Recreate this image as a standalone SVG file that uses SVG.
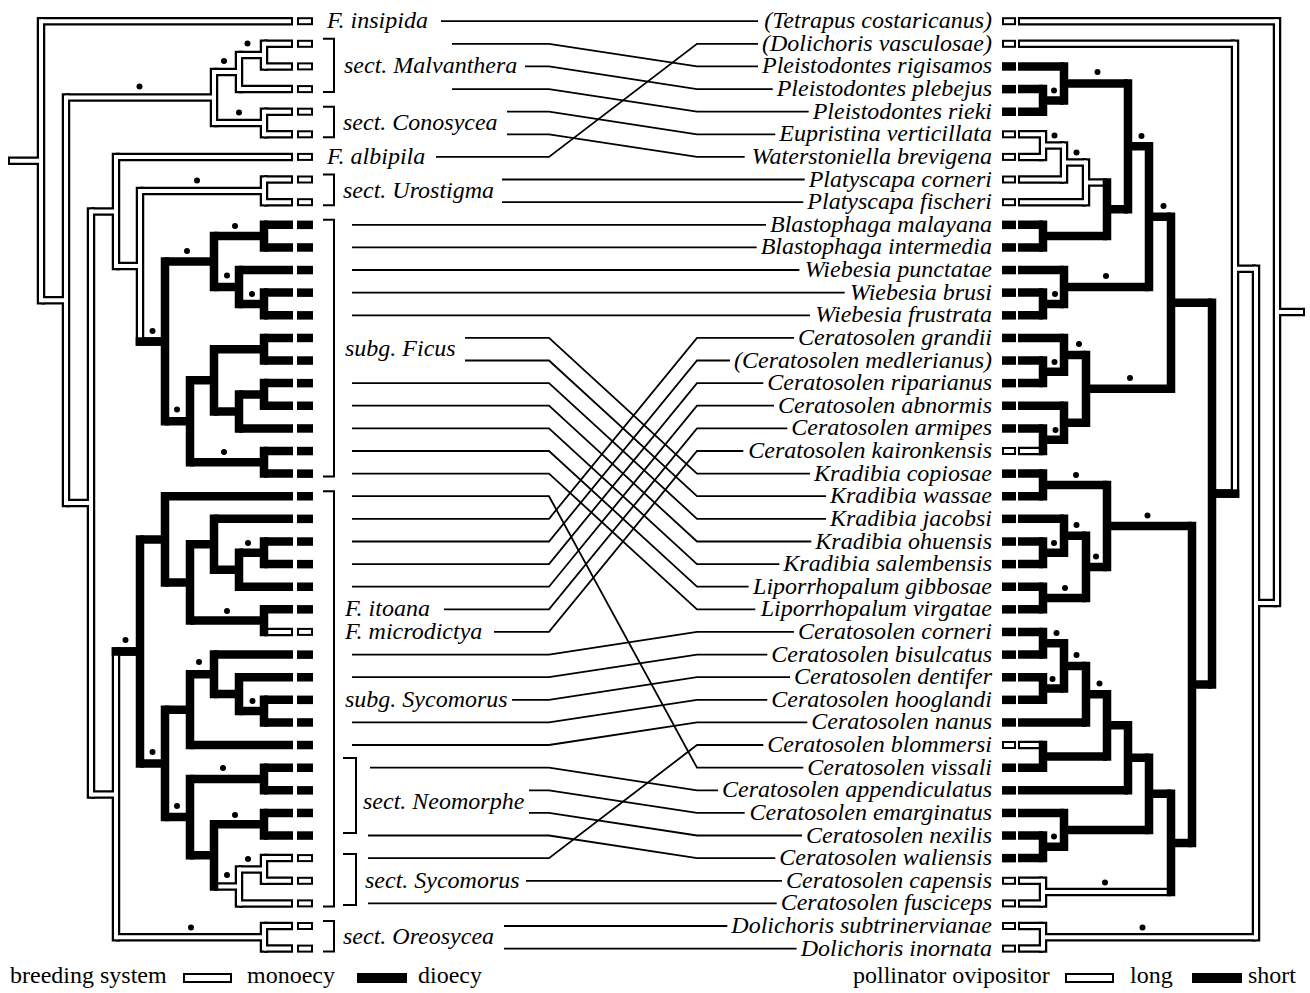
<svg xmlns="http://www.w3.org/2000/svg" width="1310" height="993" viewBox="0 0 1310 993">
<style>
.b{fill:none;stroke:#000;stroke-width:8.5}
.bv{fill:none;stroke:#000;stroke-width:8.5;stroke-linecap:square}
.w{fill:none;stroke:#fff;stroke-width:4}
.wv{fill:none;stroke:#fff;stroke-width:4;stroke-linecap:square}
.c{fill:none;stroke:#000;stroke-width:1.8}
.br{fill:none;stroke:#000;stroke-width:2}
.bo{fill:#fff;stroke:#000;stroke-width:2}
.bs{fill:#000}
.d{fill:#000}
.t{font-family:"Liberation Serif","Times New Roman",serif;font-style:italic;font-size:24px;fill:#000}
.r{text-anchor:end}
.lg{font-family:"Liberation Serif","Times New Roman",serif;font-size:24px;fill:#000}
</style>
<rect width="1310" height="993" fill="#fff"/>
<g id="left-tree">
<path class="bv" d="M41 21.2V300.2M66 97.6V502.9M214 72.1V123M239 55.1V89.1M264 43.8V66.4M264 111.7V134.3M91 211.5V794.4M116 156.9V266.1M140 190.9V341.4M264 179.5V202.2M165 261.5V421.3M214 236.1V287M264 224.8V247.4M239 270V304M264 292.6V315.3M190 380.3V462.3M214 349.2V411.4M264 337.9V360.5M239 394.4V428.4M264 383.1V405.7M264 451V473.6M116 651.4V937.3M140 539.4V763.4M165 496.2V582.5M190 544.3V620.6M214 518.8V569.7M239 552.8V586.7M264 541.5V564.1M264 609.3V631.9M165 709.7V817.1M190 674.3V745M214 654.6V694.1M239 677.2V711.1M264 699.8V722.4M190 779V855.3M264 767.7V790.3M214 824.2V886.4M264 812.9V835.5M239 869.5V903.4M264 858.1V880.8M264 926V948.6"/>
<path class="b" d="M8 160.7H41M41 21.2H293M41 300.2H66M66 97.6H214M66 502.9H91M214 72.1H239M214 123H264M239 55.1H264M239 89.1H293M264 43.8H293M264 66.4H293M264 111.7H293M264 134.3H293M91 211.5H116M91 794.4H116M116 156.9H293M116 266.1H140M140 190.9H264M264 179.5H293M264 202.2H293M140 341.4H165M165 261.5H214M165 421.3H190M214 236.1H264M214 287H239M264 224.8H293M264 247.4H293M239 270H293M239 304H264M264 292.6H293M264 315.3H293M190 380.3H214M190 462.3H264M214 349.2H264M214 411.4H239M264 337.9H293M264 360.5H293M239 394.4H264M239 428.4H293M264 383.1H293M264 405.7H293M264 451H293M264 473.6H293M116 651.4H140M116 937.3H264M264 926H293M264 948.6H293M140 539.4H165M140 763.4H165M165 496.2H293M165 582.5H190M190 544.3H214M190 620.6H264M214 518.8H293M214 569.7H239M239 552.8H264M239 586.7H293M264 541.5H293M264 564.1H293M264 609.3H293M264 631.9H293M165 709.7H190M165 817.1H190M190 674.3H214M190 745H293M214 654.6H293M214 694.1H239M239 677.2H293M239 711.1H264M264 699.8H293M264 722.4H293M190 779H264M190 855.3H214M264 767.7H293M264 790.3H293M214 824.2H264M214 886.4H239M264 812.9H293M264 835.5H293M239 869.5H264M239 903.4H293M264 858.1H293M264 880.8H293"/>
<path class="wv" d="M41 21.2V300.2M66 97.6V502.9M214 72.1V123M239 55.1V89.1M264 43.8V66.4M264 111.7V134.3M91 211.5V794.4M116 156.9V266.1M140 190.9V341.4M264 179.5V202.2M116 651.4V937.3M239 869.5V903.4M264 858.1V880.8M264 926V948.6"/>
<path class="w" d="M10 160.7H41M41 21.2H291M41 300.2H66M66 97.6H214M66 502.9H91M214 72.1H239M214 123H264M239 55.1H264M239 89.1H291M264 43.8H291M264 66.4H291M264 111.7H291M264 134.3H291M91 211.5H116M91 794.4H116M116 156.9H291M116 266.1H140M140 190.9H264M264 179.5H291M264 202.2H291M116 937.3H264M264 926H291M264 948.6H291M268.3 631.9H291M218.3 886.4H239M239 869.5H264M239 903.4H291M264 858.1H291M264 880.8H291"/>
<path class="b" d="M135.7 341.4H165M111.7 651.4H140"/>
<g class="d">
<circle cx="139.5" cy="86.5" r="3"/><circle cx="224" cy="61" r="3"/><circle cx="247.5" cy="43.5" r="3"/><circle cx="239" cy="112.5" r="3"/><circle cx="197" cy="180.5" r="3"/><circle cx="235" cy="226" r="3"/><circle cx="187" cy="251" r="3"/><circle cx="227" cy="275.5" r="3"/><circle cx="252" cy="294" r="3"/><circle cx="152.5" cy="331" r="3"/><circle cx="177" cy="409.5" r="3"/><circle cx="224" cy="452" r="3"/><circle cx="248" cy="543" r="3"/><circle cx="227" cy="611" r="3"/><circle cx="125.5" cy="640" r="3"/><circle cx="199" cy="662" r="3"/><circle cx="252.5" cy="701" r="3"/><circle cx="152.5" cy="752" r="3"/><circle cx="223" cy="768" r="3"/><circle cx="177" cy="806" r="3"/><circle cx="235" cy="815" r="3"/><circle cx="248" cy="859" r="3"/><circle cx="227" cy="875" r="3"/><circle cx="191" cy="927.5" r="3"/>
</g>
</g>
<g id="right-tree">
<path class="bv" d="M1277 21.2V603M1256 268.7V937.3M1235 43.8V493.6M1212 302.7V684.4M1171 216.7V388.8M1149 146.3V287M1128 83.4V209.2M1064 66.4V100.4M1043 89.1V111.7M1107 182.4V236.1M1086 162.6V202.2M1064 145.6V179.5M1043 134.3V156.9M1043 224.8V247.4M1064 270V304M1043 292.6V315.3M1086 354.9V422.7M1064 337.9V371.8M1043 360.5V383.1M1064 405.7V439.7M1043 428.4V451M1192 525.9V843M1107 484.9V566.9M1043 473.6V496.2M1086 535.8V598M1064 518.8V552.8M1043 541.5V564.1M1043 586.7V609.3M1171 793.8V892.1M1149 757.8V829.9M1128 725.3V790.3M1107 694.2V756.4M1086 665.9V722.4M1064 643.3V688.5M1043 631.9V654.6M1043 677.2V699.8M1043 745V767.7M1064 812.9V846.8M1043 835.5V858.1M1043 880.8V903.4M1043 926V948.6"/>
<path class="b" d="M1305 312.1H1277M1277 21.2H1018M1277 603H1256M1256 268.7H1235M1256 937.3H1043M1043 926H1018M1043 948.6H1018M1235 43.8H1018M1235 493.6H1212M1212 302.7H1171M1212 684.4H1192M1171 216.7H1149M1171 388.8H1086M1149 146.3H1128M1149 287H1064M1128 83.4H1064M1128 209.2H1107M1064 66.4H1018M1064 100.4H1043M1043 89.1H1018M1043 111.7H1018M1107 182.4H1086M1107 236.1H1043M1086 162.6H1064M1086 202.2H1018M1064 145.6H1043M1064 179.5H1018M1043 134.3H1018M1043 156.9H1018M1043 224.8H1018M1043 247.4H1018M1064 270H1018M1064 304H1043M1043 292.6H1018M1043 315.3H1018M1086 354.9H1064M1086 422.7H1064M1064 337.9H1018M1064 371.8H1043M1043 360.5H1018M1043 383.1H1018M1064 405.7H1018M1064 439.7H1043M1043 428.4H1018M1043 451H1018M1192 525.9H1107M1192 843H1171M1107 484.9H1043M1107 566.9H1086M1043 473.6H1018M1043 496.2H1018M1086 535.8H1064M1086 598H1043M1064 518.8H1018M1064 552.8H1043M1043 541.5H1018M1043 564.1H1018M1043 586.7H1018M1043 609.3H1018M1171 793.8H1149M1171 892.1H1043M1149 757.8H1128M1149 829.9H1064M1128 725.3H1107M1128 790.3H1018M1107 694.2H1086M1107 756.4H1043M1086 665.9H1064M1086 722.4H1018M1064 643.3H1043M1064 688.5H1043M1043 631.9H1018M1043 654.6H1018M1043 677.2H1018M1043 699.8H1018M1043 745H1018M1043 767.7H1018M1064 812.9H1018M1064 846.8H1043M1043 835.5H1018M1043 858.1H1018M1043 880.8H1018M1043 903.4H1018"/>
<path class="wv" d="M1277 21.2V603M1256 268.7V937.3M1235 43.8V493.6M1086 162.6V202.2M1064 145.6V179.5M1043 134.3V156.9M1043 880.8V903.4M1043 926V948.6"/>
<path class="w" d="M1303 312.1H1277M1277 21.2H1020M1277 603H1256M1256 268.7H1235M1256 937.3H1043M1043 926H1020M1043 948.6H1020M1235 43.8H1020M1102.7 182.4H1086M1086 162.6H1064M1086 202.2H1020M1064 145.6H1043M1064 179.5H1020M1043 134.3H1020M1043 156.9H1020M1038.7 451H1020M1166.7 892.1H1043M1043 880.8H1020M1043 903.4H1020M1038.7 745H1020"/>
<path class="b" d="M1239.3 493.6H1212"/>
<g class="d">
<circle cx="1097.5" cy="72" r="3"/><circle cx="1054" cy="90.5" r="3"/><circle cx="1054.5" cy="135.5" r="3"/><circle cx="1076.5" cy="152.5" r="3"/><circle cx="1141.5" cy="136" r="3"/><circle cx="1163.5" cy="206" r="3"/><circle cx="1106" cy="276" r="3"/><circle cx="1055" cy="294" r="3"/><circle cx="1079" cy="344" r="3"/><circle cx="1054.5" cy="362" r="3"/><circle cx="1130" cy="378" r="3"/><circle cx="1055.5" cy="430" r="3"/><circle cx="1076" cy="475" r="3"/><circle cx="1147.5" cy="515.5" r="3"/><circle cx="1076.5" cy="525" r="3"/><circle cx="1054" cy="543" r="3"/><circle cx="1096" cy="556.5" r="3"/><circle cx="1065" cy="588" r="3"/><circle cx="1056.5" cy="633" r="3"/><circle cx="1076.5" cy="655" r="3"/><circle cx="1052.5" cy="679" r="3"/><circle cx="1099.5" cy="683.5" r="3"/><circle cx="1054" cy="836.5" r="3"/><circle cx="1105" cy="882.5" r="3"/><circle cx="1142.5" cy="927.5" r="3"/>
</g>
</g>
<g id="fig-tips">
<rect class="bo" x="298" y="18.2" width="14" height="6"/><rect class="bo" x="298" y="40.8" width="14" height="6"/><rect class="bo" x="298" y="63.4" width="14" height="6"/><rect class="bo" x="298" y="86.1" width="14" height="6"/><rect class="bo" x="298" y="108.7" width="14" height="6"/><rect class="bo" x="298" y="131.3" width="14" height="6"/><rect class="bo" x="298" y="153.9" width="14" height="6"/><rect class="bo" x="298" y="176.5" width="14" height="6"/><rect class="bo" x="298" y="199.2" width="14" height="6"/>
<rect class="bs" x="297" y="220.6" width="16" height="8.5"/><rect class="bs" x="297" y="243.2" width="16" height="8.5"/><rect class="bs" x="297" y="265.8" width="16" height="8.5"/><rect class="bs" x="297" y="288.4" width="16" height="8.5"/><rect class="bs" x="297" y="311.1" width="16" height="8.5"/><rect class="bs" x="297" y="333.7" width="16" height="8.5"/><rect class="bs" x="297" y="356.3" width="16" height="8.5"/><rect class="bs" x="297" y="378.9" width="16" height="8.5"/><rect class="bs" x="297" y="401.5" width="16" height="8.5"/><rect class="bs" x="297" y="424.2" width="16" height="8.5"/><rect class="bs" x="297" y="446.8" width="16" height="8.5"/><rect class="bs" x="297" y="469.4" width="16" height="8.5"/><rect class="bs" x="297" y="492" width="16" height="8.5"/><rect class="bs" x="297" y="514.6" width="16" height="8.5"/><rect class="bs" x="297" y="537.3" width="16" height="8.5"/><rect class="bs" x="297" y="559.9" width="16" height="8.5"/><rect class="bs" x="297" y="582.5" width="16" height="8.5"/><rect class="bs" x="297" y="605.1" width="16" height="8.5"/>
<rect class="bo" x="298" y="628.9" width="14" height="6"/>
<rect class="bs" x="297" y="650.4" width="16" height="8.5"/><rect class="bs" x="297" y="673" width="16" height="8.5"/><rect class="bs" x="297" y="695.6" width="16" height="8.5"/><rect class="bs" x="297" y="718.2" width="16" height="8.5"/><rect class="bs" x="297" y="740.8" width="16" height="8.5"/><rect class="bs" x="297" y="763.5" width="16" height="8.5"/><rect class="bs" x="297" y="786.1" width="16" height="8.5"/><rect class="bs" x="297" y="808.7" width="16" height="8.5"/><rect class="bs" x="297" y="831.3" width="16" height="8.5"/>
<rect class="bo" x="298" y="855.1" width="14" height="6"/><rect class="bo" x="298" y="877.8" width="14" height="6"/><rect class="bo" x="298" y="900.4" width="14" height="6"/><rect class="bo" x="298" y="923" width="14" height="6"/><rect class="bo" x="298" y="945.6" width="14" height="6"/>
</g>
<g id="wasp-tips">
<rect class="bo" x="1003" y="18.2" width="12" height="6"/><rect class="bo" x="1003" y="40.8" width="12" height="6"/>
<rect class="bs" x="1002" y="62.2" width="14" height="8.5"/><rect class="bs" x="1002" y="84.9" width="14" height="8.5"/><rect class="bs" x="1002" y="107.5" width="14" height="8.5"/>
<rect class="bo" x="1003" y="131.3" width="12" height="6"/><rect class="bo" x="1003" y="153.9" width="12" height="6"/><rect class="bo" x="1003" y="176.5" width="12" height="6"/><rect class="bo" x="1003" y="199.2" width="12" height="6"/>
<rect class="bs" x="1002" y="220.6" width="14" height="8.5"/><rect class="bs" x="1002" y="243.2" width="14" height="8.5"/><rect class="bs" x="1002" y="265.8" width="14" height="8.5"/><rect class="bs" x="1002" y="288.4" width="14" height="8.5"/><rect class="bs" x="1002" y="311.1" width="14" height="8.5"/><rect class="bs" x="1002" y="333.7" width="14" height="8.5"/><rect class="bs" x="1002" y="356.3" width="14" height="8.5"/><rect class="bs" x="1002" y="378.9" width="14" height="8.5"/><rect class="bs" x="1002" y="401.5" width="14" height="8.5"/><rect class="bs" x="1002" y="424.2" width="14" height="8.5"/>
<rect class="bo" x="1003" y="448" width="12" height="6"/>
<rect class="bs" x="1002" y="469.4" width="14" height="8.5"/><rect class="bs" x="1002" y="492" width="14" height="8.5"/><rect class="bs" x="1002" y="514.6" width="14" height="8.5"/><rect class="bs" x="1002" y="537.3" width="14" height="8.5"/><rect class="bs" x="1002" y="559.9" width="14" height="8.5"/><rect class="bs" x="1002" y="582.5" width="14" height="8.5"/><rect class="bs" x="1002" y="605.1" width="14" height="8.5"/><rect class="bs" x="1002" y="627.7" width="14" height="8.5"/><rect class="bs" x="1002" y="650.4" width="14" height="8.5"/><rect class="bs" x="1002" y="673" width="14" height="8.5"/><rect class="bs" x="1002" y="695.6" width="14" height="8.5"/><rect class="bs" x="1002" y="718.2" width="14" height="8.5"/>
<rect class="bo" x="1003" y="742" width="12" height="6"/>
<rect class="bs" x="1002" y="763.5" width="14" height="8.5"/><rect class="bs" x="1002" y="786.1" width="14" height="8.5"/><rect class="bs" x="1002" y="808.7" width="14" height="8.5"/><rect class="bs" x="1002" y="831.3" width="14" height="8.5"/><rect class="bs" x="1002" y="853.9" width="14" height="8.5"/>
<rect class="bo" x="1003" y="877.8" width="12" height="6"/><rect class="bo" x="1003" y="900.4" width="12" height="6"/><rect class="bo" x="1003" y="923" width="12" height="6"/><rect class="bo" x="1003" y="945.6" width="12" height="6"/>
</g>
<g id="fig-labels">
<g id="f-insipida"><text class="t" x="327" y="28.2">F. insipida</text></g>
<g id="s-malvanthera"><path class="br" d="M323 38.8H334V92.1H323"/><text class="t" x="344" y="73.4">sect. Malvanthera</text></g>
<g id="s-conosycea"><path class="br" d="M323 106.7H334V137.3H323"/><text class="t" x="343" y="130">sect. Conosycea</text></g>
<g id="f-albipila"><text class="t" x="327" y="163.9">F. albipila</text></g>
<g id="s-urostigma"><path class="br" d="M323 174.5H334V205.2H323"/><text class="t" x="343" y="197.9">sect. Urostigma</text></g>
<g id="sg-ficus"><path class="br" d="M323 219.8H334V476.6H323"/><text class="t" x="345" y="356.2">subg. Ficus</text></g>
<g id="sg-sycomorus"><path class="br" d="M323 491.2H334V906.4H323"/><text class="t" x="345" y="706.8">subg. Sycomorus</text></g>
<g id="f-itoana"><text class="t" x="345" y="616.3">F. itoana</text></g>
<g id="f-microdictya"><text class="t" x="345" y="638.9">F. microdictya</text></g>
<g id="s-neomorphe"><path class="br" d="M343 758H356V833H343"/><text class="t" x="363" y="808.6">sect. Neomorphe</text></g>
<g id="s-sycomorus"><path class="br" d="M343 854H356V905H343"/><text class="t" x="365" y="887.8">sect. Sycomorus</text></g>
<g id="s-oreosycea"><path class="br" d="M323 921H334V951.6H323"/><text class="t" x="343" y="944.3">sect. Oreosycea</text></g>
</g>
<g id="wasp-labels" class="t r">
<text x="992" y="28.2">(Tetrapus costaricanus)</text>
<text x="992" y="50.8">(Dolichoris vasculosae)</text>
<text x="992" y="73.4">Pleistodontes rigisamos</text>
<text x="992" y="96.1">Pleistodontes plebejus</text>
<text x="992" y="118.7">Pleistodontes rieki</text>
<text x="992" y="141.3">Eupristina verticillata</text>
<text x="992" y="163.9">Waterstoniella brevigena</text>
<text x="992" y="186.5">Platyscapa corneri</text>
<text x="992" y="209.2">Platyscapa fischeri</text>
<text x="992" y="231.8">Blastophaga malayana</text>
<text x="992" y="254.4">Blastophaga intermedia</text>
<text x="992" y="277">Wiebesia punctatae</text>
<text x="992" y="299.6">Wiebesia brusi</text>
<text x="992" y="322.3">Wiebesia frustrata</text>
<text x="992" y="344.9">Ceratosolen grandii</text>
<text x="992" y="367.5">(Ceratosolen medlerianus)</text>
<text x="992" y="390.1">Ceratosolen riparianus</text>
<text x="992" y="412.7">Ceratosolen abnormis</text>
<text x="992" y="435.4">Ceratosolen armipes</text>
<text x="992" y="458">Ceratosolen kaironkensis</text>
<text x="992" y="480.6">Kradibia copiosae</text>
<text x="992" y="503.2">Kradibia wassae</text>
<text x="992" y="525.8">Kradibia jacobsi</text>
<text x="992" y="548.5">Kradibia ohuensis</text>
<text x="992" y="571.1">Kradibia salembensis</text>
<text x="992" y="593.7">Liporrhopalum gibbosae</text>
<text x="992" y="616.3">Liporrhopalum virgatae</text>
<text x="992" y="638.9">Ceratosolen corneri</text>
<text x="992" y="661.6">Ceratosolen bisulcatus</text>
<text x="992" y="684.2">Ceratosolen dentifer</text>
<text x="992" y="706.8">Ceratosolen hooglandi</text>
<text x="992" y="729.4">Ceratosolen nanus</text>
<text x="992" y="752">Ceratosolen blommersi</text>
<text x="992" y="774.7">Ceratosolen vissali</text>
<text x="992" y="797.3">Ceratosolen appendiculatus</text>
<text x="992" y="819.9">Ceratosolen emarginatus</text>
<text x="992" y="842.5">Ceratosolen nexilis</text>
<text x="992" y="865.1">Ceratosolen waliensis</text>
<text x="992" y="887.8">Ceratosolen capensis</text>
<text x="992" y="910.4">Ceratosolen fusciceps</text>
<text x="992" y="933">Dolichoris subtrinervianae</text>
<text x="992" y="955.6">Dolichoris inornata</text>
</g>
<g id="connectors" class="c">
<path d="M441 21.2H758"/>
<path d="M452 43.8H549L697 66.4H758"/>
<path d="M525 66.4H549L697 89.1H772.7"/>
<path d="M452 89.1H549L697 111.7H808.7"/>
<path d="M507 111.7H549L697 134.3H775.3"/>
<path d="M507 134.3H549L697 156.9H744.7"/>
<path d="M436 156.9H549L697 43.8H758"/>
<path d="M502 179.5H804.7"/>
<path d="M502 202.2H803.3"/>
<path d="M352 224.8H766"/>
<path d="M352 247.4H756.7"/>
<path d="M352 270H799.4"/>
<path d="M352 292.6H844.7"/>
<path d="M352 315.3H810"/>
<path d="M465 337.9H549L697 473.6H810"/>
<path d="M465 360.5H549L697 496.2H826"/>
<path d="M352 383.1H549L697 518.8H826"/>
<path d="M352 405.7H549L697 541.5H811.3"/>
<path d="M352 428.4H549L697 564.1H779.3"/>
<path d="M352 451H549L697 586.7H748.6"/>
<path d="M352 473.6H549L697 609.3H755.3"/>
<path d="M352 496.2H549L697 767.7H803.3"/>
<path d="M352 518.8H549L697 337.9H794"/>
<path d="M352 541.5H549L697 360.5H730"/>
<path d="M352 564.1H549L697 383.1H763.3"/>
<path d="M352 586.7H549L697 405.7H774"/>
<path d="M444 609.3H549L697 428.4H787.3"/>
<path d="M494 631.9H549L697 451H743.3"/>
<path d="M352 654.6H549L697 631.9H794"/>
<path d="M352 677.2H549L697 654.6H767.3"/>
<path d="M512 699.8H549L697 677.2H790"/>
<path d="M352 722.4H549L697 699.8H767.3"/>
<path d="M352 745H549L697 722.4H807.3"/>
<path d="M370 767.7H549L697 790.3H718"/>
<path d="M529 790.3H549L697 812.9H744.7"/>
<path d="M529 812.9H549L697 835.5H802"/>
<path d="M368 835.5H549L697 858.1H775.3"/>
<path d="M368 858.1H549L697 745H763.3"/>
<path d="M526 880.8H782"/>
<path d="M368 903.4H776.7"/>
<path d="M504 926H727.3"/>
<path d="M504 948.6H796.6"/>
</g>
<g id="legend">
<text class="lg" x="10" y="983">breeding system</text>
<rect class="bo" x="184" y="974" width="47" height="8"/>
<text class="lg" x="247" y="983">monoecy</text>
<rect class="bs" x="357" y="973" width="50" height="10"/>
<text class="lg" x="418" y="983">dioecy</text>
<text class="lg" x="853" y="983">pollinator ovipositor</text>
<rect class="bo" x="1066" y="974" width="47" height="8"/>
<text class="lg" x="1130" y="983">long</text>
<rect class="bs" x="1192" y="973" width="50" height="10"/>
<text class="lg" x="1248" y="983">short</text>
</g>
</svg>
